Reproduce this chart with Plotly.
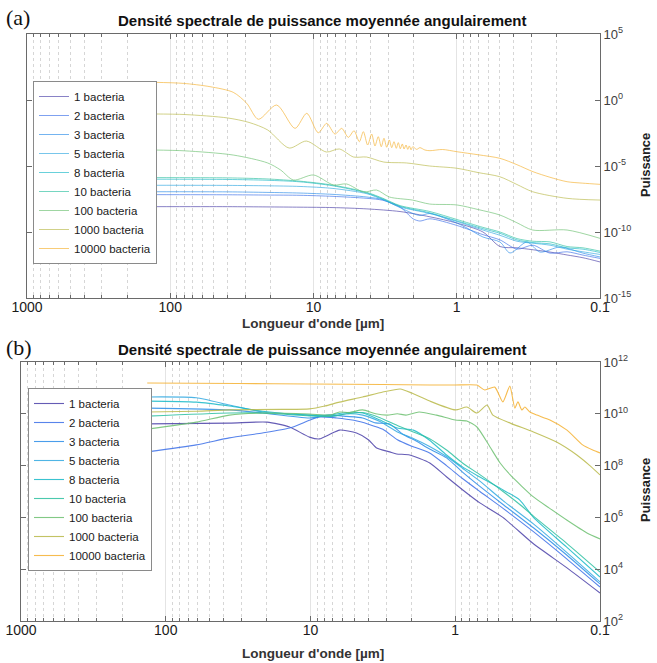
import plotly.graph_objects as go

W, H = 657, 663

labels = ["1 bacteria", "2 bacteria", "3 bacteria", "5 bacteria", "8 bacteria",
          "10 bacteria", "100 bacteria", "1000 bacteria", "10000 bacteria"]
base_rgb = [(74, 63, 168), (59, 111, 232), (42, 140, 232), (48, 168, 224), (24, 184, 200),
            (44, 192, 160), (108, 192, 112), (184, 184, 72), (245, 176, 48)]

x_tick_vals = [1000, 100, 10, 1, 0.1]
x_tick_text = ["1000", "100", "10", "1", "0.1"]
ya_tick_exp = [-15, -10, -5, 0, 5]
yb_tick_exp = [2, 4, 6, 8, 10, 12]

# ---------------- Panel (a): log10(wavelength um), log10(power) ----------------
a_x_1 = [2.12, 1.6, 1.325, 1.094, 0.864, 0.627, 0.396, 0.187, 0.0, -0.183, -0.302, -0.421, -0.651, -0.77, -0.881, -1.0]
a_y_1 = [-8.08, -8.08, -8.1, -8.12, -8.15, -8.25, -8.45, -8.85, -9.32, -10.0, -11.1, -11.2, -11.52, -11.74, -11.95, -12.27]

a_x_2 = [2.12, 1.6, 1.325, 1.094, 0.864, 0.627, 0.515, 0.396, 0.305, 0.257, 0.187, 0.0, -0.183, -0.302, -0.421, -0.532, -0.651, -0.77, -0.881, -1.0]
a_y_2 = [-7.17, -7.18, -7.2, -7.22, -7.3, -7.45, -7.6, -8.1, -9.0, -9.17, -9.0, -9.5, -10.2, -10.6, -11.3, -11.0, -11.6, -11.5, -11.75, -12.0]

a_x_3 = [2.12, 1.6, 1.325, 1.094, 0.864, 0.627, 0.515, 0.445, 0.305, 0.257, 0.187, 0.0, -0.072, -0.183, -0.302, -0.372, -0.49, -0.581, -0.721, -0.881, -1.0]
a_y_3 = [-6.95, -6.96, -7.0, -7.05, -7.15, -7.35, -7.55, -7.9, -8.6, -8.75, -8.6, -9.32, -9.7, -10.38, -10.76, -11.59, -10.76, -11.52, -11.14, -11.6, -11.89]

a_x_5 = [2.12, 1.6, 1.325, 1.094, 0.864, 0.627, 0.515, 0.396, 0.187, 0.0, -0.183, -0.302, -0.421, -0.532, -0.651, -0.77, -0.881, -1.0]
a_y_5 = [-6.46, -6.47, -6.5, -6.55, -6.7, -7.1, -7.55, -8.1, -8.6, -9.2, -9.85, -10.25, -10.7, -10.85, -11.0, -11.3, -11.5, -11.7]

a_x_8 = [2.12, 1.6, 1.325, 1.094, 0.864, 0.627, 0.515, 0.396, 0.187, 0.0, -0.183, -0.302, -0.421, -0.532, -0.651, -0.77, -0.881, -1.0]
a_y_8 = [-6.0, -6.02, -6.08, -6.2, -6.5, -7.05, -7.5, -8.05, -8.55, -9.15, -9.75, -10.1, -10.6, -10.8, -10.9, -11.2, -11.3, -11.55]

a_x_10 = [2.12, 1.6, 1.325, 1.094, 0.864, 0.627, 0.515, 0.396, 0.187, 0.0, -0.183, -0.302, -0.421, -0.532, -0.651, -0.77, -0.881, -1.0]
a_y_10 = [-5.88, -5.9, -5.98, -6.15, -6.45, -7.0, -7.45, -8.0, -8.45, -9.05, -9.65, -10.0, -10.5, -10.7, -10.75, -11.1, -11.2, -11.45]

a_x_100 = [2.118, 1.9, 1.56, 1.32, 1.23, 1.14, 1.0, 0.86, 0.77, 0.65, 0.56, 0.47, 0.31, 0.19, 0.0, -0.15, -0.30, -0.42, -0.53, -0.77, -1.0]
a_y_100 = [-3.79, -3.85, -4.17, -4.77, -5.30, -6.06, -5.68, -6.44, -6.36, -6.97, -6.82, -7.35, -7.58, -7.88, -7.95, -8.3, -8.71, -9.3, -9.85, -9.85, -10.48]

a_x_1000 = [2.118, 1.9, 1.6, 1.45, 1.32, 1.17, 1.05, 0.91, 0.82, 0.72, 0.63, 0.51, 0.35, 0.19, 0.0, -0.15, -0.30, -0.42, -0.53, -0.77, -1.0]
a_y_1000 = [-1.06, -1.1, -1.36, -1.7, -2.27, -3.64, -3.11, -3.94, -3.71, -4.32, -4.32, -4.70, -4.77, -5.0, -5.17, -5.5, -5.81, -6.4, -6.95, -7.45, -7.58]

a_x_10000 = [2.118, 1.909, 1.723, 1.560, 1.466, 1.385, 1.257, 1.129, 1.047, 0.967, 0.908, 0.850, 0.803,
             0.757, 0.717, 0.680, 0.652, 0.622, 0.594, 0.571, 0.548, 0.527, 0.508, 0.489, 0.471, 0.454,
             0.438, 0.422, 0.408, 0.394, 0.380, 0.368, 0.354, 0.342, 0.331, 0.319, 0.307, 0.280, 0.257,
             0.222, 0.187, 0.10, -0.002, -0.15, -0.302, -0.42, -0.532, -0.65, -0.77, -0.88, -1.0]
a_y_10000 = [1.34, 1.26, 1.01, 0.58, -0.25, -1.46, -0.38, -2.15, -1.01, -2.48, -1.77, -2.58, -2.15,
             -2.83, -2.33, -3.16, -2.40, -3.41, -2.58, -3.48, -2.78, -3.54, -2.90, -3.58, -3.03, -3.61,
             -3.16, -3.66, -3.23, -3.69, -3.33, -3.71, -3.41, -3.74, -3.48, -3.77, -3.54, -3.74, -3.61,
             -3.79, -3.84, -3.75, -3.92, -4.15, -4.42, -4.9, -5.43, -5.85, -6.19, -6.3, -6.39]

# ---------------- Panel (b) ----------------
b_x_1 = [2.128, 1.561, 1.30, 1.145, 1.007, 0.938, 0.869, 0.799, 0.682, 0.60, 0.543, 0.453, 0.405, 0.315, 0.176, 0.059, -0.052, -0.170, -0.329, -0.536, -0.772, -1.0]
b_y_1 = [9.61, 9.64, 9.68, 9.49, 9.10, 9.03, 9.20, 9.37, 9.26, 9.0, 8.68, 8.53, 8.45, 8.41, 8.10, 7.56, 7.06, 6.56, 6.0, 5.0, 4.05, 3.08]

b_x_2 = [2.128, 1.789, 1.561, 1.332, 1.145, 1.007, 0.938, 0.82, 0.7, 0.6, 0.5, 0.4, 0.3, 0.18, 0.06, -0.05, -0.17, -0.33, -0.54, -0.77, -1.0]
b_y_2 = [8.53, 8.80, 9.07, 9.26, 9.45, 9.75, 9.88, 9.84, 9.75, 9.6, 9.4, 9.0, 8.75, 8.5, 8.0, 7.5, 7.0, 6.35, 5.45, 4.4, 3.31]

b_x_3 = [2.128, 1.561, 1.332, 1.007, 0.869, 0.75, 0.64, 0.55, 0.45, 0.36, 0.27, 0.18, 0.06, -0.05, -0.17, -0.33, -0.54, -0.77, -1.0]
b_y_3 = [10.22, 10.15, 10.03, 9.84, 9.95, 9.9, 9.84, 9.65, 9.6, 9.2, 8.95, 8.65, 8.3, 7.75, 7.2, 6.5, 5.6, 4.55, 3.43]

b_x_5 = [2.128, 1.789, 1.561, 1.332, 1.007, 0.869, 0.75, 0.64, 0.52, 0.40, 0.29, 0.18, 0.06, -0.05, -0.17, -0.33, -0.54, -0.77, -1.0]
b_y_5 = [10.65, 10.62, 10.34, 10.07, 9.95, 9.88, 10.0, 9.95, 9.7, 9.3, 9.05, 8.75, 8.35, 7.9, 7.4, 6.65, 5.75, 4.65, 3.51]

b_x_8 = [2.128, 1.789, 1.561, 1.332, 1.007, 0.869, 0.75, 0.64, 0.52, 0.40, 0.29, 0.18, 0.06, -0.05, -0.17, -0.33, -0.446, -0.54, -0.77, -1.0]
b_y_8 = [10.49, 10.45, 10.3, 10.1, 9.95, 9.95, 10.05, 10.03, 9.76, 9.45, 9.37, 8.99, 8.41, 7.95, 7.56, 7.06, 6.67, 6.0, 4.85, 3.70]

b_x_10 = [2.128, 1.561, 1.332, 1.007, 0.869, 0.75, 0.64, 0.52, 0.40, 0.29, 0.18, 0.06, -0.05, -0.17, -0.33, -0.446, -0.54, -0.77, -1.0]
b_y_10 = [9.91, 10.03, 10.03, 9.92, 9.9, 10.0, 10.05, 9.85, 9.55, 9.3, 9.05, 8.6, 8.1, 7.65, 7.0, 6.5, 6.05, 5.0, 3.89]

b_x_100 = [2.128, 1.789, 1.561, 1.332, 1.007, 0.869, 0.8, 0.73, 0.64, 0.55, 0.47, 0.40, 0.34, 0.25, 0.13, 0.0, -0.08, -0.15, -0.24, -0.31, -0.38, -0.54, -0.65, -0.77, -0.91, -1.0]
b_y_100 = [9.41, 9.68, 9.95, 10.03, 9.99, 9.95, 10.07, 10.05, 10.15, 10.0, 9.95, 10.0, 9.95, 10.07, 9.95, 9.76, 9.72, 9.49, 8.72, 8.10, 7.64, 6.79, 6.36, 5.90, 5.40, 5.17]

b_x_1000 = [2.128, 1.789, 1.561, 1.2, 1.007, 0.9, 0.8, 0.64, 0.5, 0.38, 0.3, 0.18, 0.0, -0.08, -0.15, -0.22, -0.26, -0.38, -0.54, -0.70, -0.84, -0.93, -1.0]
b_y_1000 = [10.07, 10.1, 10.15, 10.17, 10.19, 10.3, 10.45, 10.65, 10.84, 10.96, 10.8, 10.5, 10.15, 10.26, 10.03, 10.34, 9.95, 9.64, 9.30, 8.91, 8.41, 8.0, 7.64]

b_x_10000 = [2.128, 1.5, 1.0, 0.5, 0.18, 0.0, -0.149, -0.204, -0.273, -0.329, -0.377, -0.412, -0.433, -0.460, -0.481, -0.516, -0.564, -0.654, -0.772, -0.88, -0.95, -1.0]
b_y_10000 = [11.19, 11.17, 11.15, 11.13, 11.11, 11.11, 11.11, 10.92, 11.03, 10.46, 11.07, 10.22, 10.46, 10.15, 10.26, 10.07, 9.95, 9.76, 9.37, 8.80, 8.60, 8.49]

panel_a = [(a_x_1, a_y_1), (a_x_2, a_y_2), (a_x_3, a_y_3), (a_x_5, a_y_5), (a_x_8, a_y_8),
           (a_x_10, a_y_10), (a_x_100, a_y_100), (a_x_1000, a_y_1000), (a_x_10000, a_y_10000)]
panel_b = [(b_x_1, b_y_1), (b_x_2, b_y_2), (b_x_3, b_y_3), (b_x_5, b_y_5), (b_x_8, b_y_8),
           (b_x_10, b_y_10), (b_x_100, b_y_100), (b_x_1000, b_y_1000), (b_x_10000, b_y_10000)]


def rgba(c, a):
    return "rgba(%d,%d,%d,%.2f)" % (c[0], c[1], c[2], a)


fig = go.Figure()
for i, (xs, ys) in enumerate(panel_a):
    fig.add_trace(go.Scatter(
        x=[10 ** v for v in xs], y=[10 ** v for v in ys], mode="lines", name=labels[i],
        line=dict(color=rgba(base_rgb[i], 0.65), width=1, shape="spline", smoothing=0.8),
        xaxis="x", yaxis="y", legend="legend"))
for i, (xs, ys) in enumerate(panel_b):
    fig.add_trace(go.Scatter(
        x=[10 ** v for v in xs], y=[10 ** v for v in ys], mode="lines", name=labels[i],
        line=dict(color=rgba(base_rgb[i], 0.85), width=1.1, shape="spline", smoothing=0.6),
        xaxis="x2", yaxis="y2", legend="legend2"))

minor_vals = [m * 10 ** e for e in range(-1, 3) for m in range(2, 10)]
AX = "#6a6a6a"
FONT = "Liberation Sans, Arial, sans-serif"


def xaxis(domain, anchor):
    return dict(type="log", range=[3, -1], domain=domain, anchor=anchor,
                showline=True, linecolor=AX, linewidth=1, mirror="ticks",
                ticks="inside", ticklen=5, tickcolor=AX,
                tickmode="array", tickvals=x_tick_vals, ticktext=x_tick_text,
                tickfont=dict(family=FONT, size=14, color="#1a1a1a"),
                ticklabelstandoff=-4,
                showgrid=True, gridcolor="#e4e4e4", gridwidth=1, zeroline=False,
                minor=dict(tickmode="array", tickvals=minor_vals, ticks="inside", ticklen=3,
                           tickcolor=AX, showgrid=True, gridcolor="#d6d6d6", griddash="dot"))


def yaxis(domain, anchor, exps):
    return dict(type="log", range=[exps[0], exps[-1]], domain=domain, anchor=anchor, side="right",
                showline=True, linecolor=AX, linewidth=1, mirror="ticks",
                ticks="inside", ticklen=5, tickcolor=AX,
                tickmode="array", tickvals=[10 ** e for e in exps],
                ticktext=["10<sup>%d</sup>" % e for e in exps],
                tickfont=dict(family=FONT, size=13, color="#404040"),
                showgrid=False, zeroline=False)


fig.update_layout(
    width=W, height=H, autosize=False,
    margin=dict(l=0, r=0, t=0, b=0, pad=0, autoexpand=False),
    paper_bgcolor="white", plot_bgcolor="white",
    xaxis=xaxis([27 / W, 600 / W], "y"),
    yaxis=yaxis([1 - 298 / H, 1 - 34 / H], "x", ya_tick_exp),
    xaxis2=xaxis([21 / W, 600 / W], "y2"),
    yaxis2=yaxis([1 - 621 / H, 1 - 362 / H], "x2", yb_tick_exp),
    legend=dict(x=33 / W, y=1 - 81 / H, xanchor="left", yanchor="top",
                bgcolor="white", bordercolor="#8a8a8a", borderwidth=1,
                font=dict(family=FONT, size=11.5, color="#1a1a1a"), tracegroupgap=0),
    legend2=dict(x=28 / W, y=1 - 388 / H, xanchor="left", yanchor="top",
                 bgcolor="white", bordercolor="#8a8a8a", borderwidth=1,
                 font=dict(family=FONT, size=11.5, color="#1a1a1a"), tracegroupgap=0),
    showlegend=True,
)

title_txt = "<b>Densité spectrale de puissance moyennée angulairement</b>"
xt_txt = "<b>Longueur d'onde [µm]</b>"
ann = []
for (ty, lab, tity, xty, py) in [(17, "(a)", 20, 323, 165), (347, "(b)", 349, 653, 490)]:
    ann.append(dict(x=4 / W, y=1 - ty / H, xref="paper", yref="paper", text=lab, showarrow=False,
                    xanchor="left", yanchor="middle",
                    font=dict(family="Liberation Serif, Times New Roman, serif", size=22, color="#111")))
    ann.append(dict(x=322 / W, y=1 - tity / H, xref="paper", yref="paper", text=title_txt,
                    showarrow=False, xanchor="center", yanchor="middle",
                    font=dict(family=FONT, size=15, color="#111")))
    ann.append(dict(x=313 / W, y=1 - xty / H, xref="paper", yref="paper", text=xt_txt,
                    showarrow=False, xanchor="center", yanchor="middle",
                    font=dict(family=FONT, size=13.5, color="#333")))
    ann.append(dict(x=645 / W, y=1 - py / H, xref="paper", yref="paper", text="<b>Puissance</b>",
                    showarrow=False, xanchor="center", yanchor="middle", textangle=-90,
                    font=dict(family=FONT, size=13, color="#222")))
fig.update_layout(annotations=ann)

# remove the browser's default 8px body margin so the figure sits at the page origin
fig.write_html("out.html", config={"displayModeBar": False},
               post_script="document.body.style.margin='0px';")
